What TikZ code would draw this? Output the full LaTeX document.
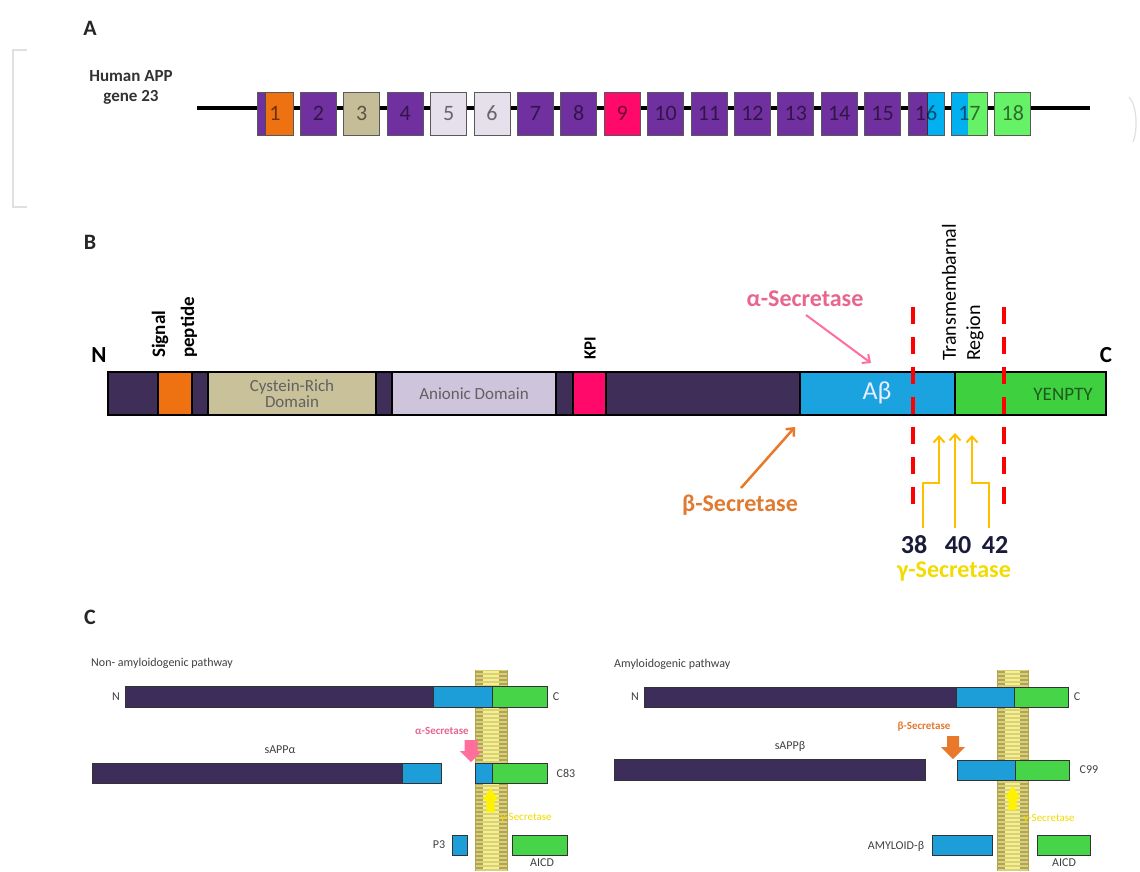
\documentclass[tikz,border=0pt]{standalone}
\usepackage{fontspec}
\setmainfont{Carlito}
\usetikzlibrary{arrows.meta}
\definecolor{exPurple}{HTML}{7030A0}
\definecolor{exOrange}{HTML}{EE7211}
\definecolor{exTan}{HTML}{C4BD97}
\definecolor{exLav}{HTML}{E6E0EC}
\definecolor{exPink}{HTML}{FF0A6A}
\definecolor{exBlue}{HTML}{00B0F0}
\definecolor{exGreen}{HTML}{66F266}
\definecolor{darkPur}{HTML}{3F2F58}
\definecolor{tanB}{HTML}{C9C19A}
\definecolor{lavB}{HTML}{CEC4DC}
\definecolor{blueB}{HTML}{1BA3E0}
\definecolor{greenB}{HTML}{3FD03F}
\definecolor{pinkAr}{HTML}{FF6F9C}
\definecolor{pinkTx}{HTML}{E8668E}
\definecolor{orangeAr}{HTML}{E8782A}
\definecolor{orangeTx}{HTML}{E07A30}
\definecolor{goldAr}{HTML}{FFC000}
\definecolor{yellowTx}{HTML}{F2DC00}
\definecolor{navy}{HTML}{1A1A3A}
\definecolor{purC}{HTML}{3D2D5A}
\definecolor{blueC}{HTML}{1E9ED8}
\definecolor{greenC}{HTML}{48D448}
\definecolor{memBg}{HTML}{D8CF86}
\definecolor{memOut}{HTML}{B3A54C}
\definecolor{memIn}{HTML}{F7F082}
\definecolor{yArrow}{HTML}{FFF200}
\definecolor{abTx}{HTML}{E8EEFF}
\definecolor{yenTx}{HTML}{1E5A1E}
\newcommand\fsz[1]{\fontsize{#1}{#1}\selectfont}
\newcommand\mkseg[8]{\node[#8, fill=#6, minimum width={(#3-#2)*1pt}, minimum height={(#5-#4)*1pt}, anchor=north west] (#1) at (#2,#4) {#7};}
\newcommand\membrane[2]{%
  \fill[memBg] (#1,670) rectangle ({#1+#2},871);
  \foreach \yy in {672,676,...,868}{%
    \draw[memOut, line width=1.3pt] (#1,\yy) -- ({#1+#2},\yy);
    \draw[memIn, line width=1.5pt] ({#1+8},\yy) -- ({#1+#2-8},\yy);}
  \draw[memOut, line width=0.8pt] (#1,670) -- (#1,871) ({#1+#2},670) -- ({#1+#2},871);
}
\begin{document}
\begin{tikzpicture}[x=1pt,y=-1pt,
  exon/.style={draw={black!65}, line width=0.8pt, minimum width=36pt, minimum height=43pt,
    inner sep=0pt, font=\fsz{22}, text=black, text opacity=0.55},
  segbox/.style={draw=black, line width=1.5pt, inner sep=0pt, outer sep=0pt, align=center},
  segc/.style={draw={black!80}, line width=0.8pt, inner sep=0pt, outer sep=0pt},
  panel/.style={font=\fsz{22}\bfseries, text={black!85}},
  rot/.style={rotate=90, anchor=west, inner sep=0pt},
  small/.style={font=\fsz{12}, text={black!75}, inner sep=0pt},
  barb/.style={-{Straight Barb[length=6pt,width=11pt]}}]
\path[use as bounding box, fill=white] (0,0) rectangle (1140,871);

% ---------------- Panel A ----------------
\node[panel] (labA) at (90,28) {A};
\draw[black!12, line width=1.5pt] (27,50) -- (13,50) -- (13,207) -- (27,207);
\draw[black!12, line width=1.2pt] (1129,97) .. controls (1137,105) and (1138,130) .. (1133,142);
\node[font=\fsz{17}\bfseries, text={black!80}, align=center, inner sep=0pt] (hum) at (131,87)
  {Human APP\\[3pt]gene 23};
\coordinate (gL) at (197,108);
\coordinate (gR) at (1090,108);
\draw[line width=3.5pt] (gL) -- (gR);
\node[exon, fill=exOrange, path picture={\fill[exPurple] (path picture bounding box.north west) rectangle ([xshift=8pt]path picture bounding box.south west);
   \draw[black!70, line width=0.8pt] ([xshift=8pt]path picture bounding box.north west) -- ([xshift=8pt]path picture bounding box.south west);}]
  (ex1) at (275,113.5) {1};
\foreach \i/\c in {2/exPurple,3/exTan,4/exPurple,5/exLav,6/exLav,7/exPurple,8/exPurple,9/exPink,10/exPurple,11/exPurple,12/exPurple,13/exPurple,14/exPurple,15/exPurple,18/exGreen}{
  \node[exon, fill=\c] (ex\i) at ({275+(\i-1)*43.4},113.5) {\i};
}
\node[exon, fill=exPurple, path picture={\fill[exBlue] ([xshift=19pt]path picture bounding box.north west) rectangle (path picture bounding box.south east);
   \draw[black!80, line width=0.8pt] ([xshift=19pt]path picture bounding box.north west) -- ([xshift=19pt]path picture bounding box.south west);}]
  (ex16) at ({275+15*43.4},113.5) {16};
\node[exon, fill=exBlue, path picture={\fill[exGreen] ([xshift=17pt]path picture bounding box.north west) rectangle (path picture bounding box.south east);}]
  (ex17) at ({275+16*43.4},113.5) {17};

% ---------------- Panel B ----------------
\node[panel] (labB) at (90,242) {B};
\node[font=\fsz{23}\bfseries, inner sep=0pt] (bN) at (99,355) {N};
\node[font=\fsz{23}\bfseries, inner sep=0pt] (bC) at (1106,355) {C};
\mkseg{b1}{108}{158}{372}{415}{darkPur}{}{segbox}
\mkseg{bsig}{158}{192}{372}{415}{exOrange}{}{segbox}
\mkseg{b2}{192}{208}{372}{415}{darkPur}{}{segbox}
\mkseg{bcys}{208}{376}{372}{415}{tanB}{\fsz{17}\color{black!62}Cystein-Rich\\[1pt]\fsz{17}\color{black!62}Domain}{segbox}
\mkseg{b3}{376}{392}{372}{415}{darkPur}{}{segbox}
\mkseg{bani}{392}{556}{372}{415}{lavB}{\fsz{17}\color{black!62}Anionic Domain}{segbox}
\mkseg{b4}{556}{573}{372}{415}{darkPur}{}{segbox}
\mkseg{bkpi}{573}{606}{372}{415}{exPink}{}{segbox}
\mkseg{b5}{606}{800}{372}{415}{darkPur}{}{segbox}
\mkseg{bab}{800}{955}{372}{415}{blueB}{}{segbox}
\mkseg{bgr}{955}{1106}{372}{415}{greenB}{}{segbox}
\draw[line width=2.5pt] (b1.north west) rectangle (bgr.south east);
\node[font=\fsz{26}, text=abTx, inner sep=0pt] (tab) at (877,393) {Aβ};
\node[font=\fsz{19}, text=yenTx, inner sep=0pt] (tyen) at (1063,394) {YENPTY};

\node[rot, font=\fsz{19}\bfseries] (sig1) at (160,358) {Signal};
\node[rot, font=\fsz{19}\bfseries] (sig2) at (189,358) {peptide};
\node[rot, font=\fsz{17}\bfseries] (kpi) at (590,360) {KPI};
\node[rot, font=\fsz{20}] (tm1) at (949,361) {Transmembarnal};
\node[rot, font=\fsz{20}] (tm2) at (975,361) {Region};

\coordinate (d1t) at (913,307); \coordinate (d1b) at (913,508);
\coordinate (d2t) at (1004,307); \coordinate (d2b) at (1004,508);
\draw[red, line width=3.5pt, dash pattern=on 17pt off 13pt] (d1t) -- (d1b);
\draw[red, line width=3.5pt, dash pattern=on 17pt off 13pt] (d2t) -- (d2b);

\node[font=\fsz{24}\bfseries, text=pinkTx, inner sep=0pt] (alab) at (805,299) {α-Secretase};
\coordinate (aS) at (806,315); \coordinate (aE) at (871,363);
\draw[barb, pinkAr, line width=2pt] (aS) -- (aE);
\node[font=\fsz{24}\bfseries, text=orangeTx, inner sep=0pt] (blab) at (740,505) {β-Secretase};
\coordinate (bS) at (741,488); \coordinate (bE) at (795,427);
\draw[barb, orangeAr, line width=2.5pt] (bS) -- (bE);

\node[font=\fsz{26}\bfseries, text=navy, inner sep=0pt] (n38) at (914,545) {38};
\node[font=\fsz{26}\bfseries, text=navy, inner sep=0pt] (n40) at (958,545) {40};
\node[font=\fsz{26}\bfseries, text=navy, inner sep=0pt] (n42) at (995,545) {42};
\coordinate (g38) at (923,528); \coordinate (g38e) at (939,435);
\coordinate (g40) at (955,528); \coordinate (g40e) at (955,433);
\coordinate (g42) at (989,528); \coordinate (g42e) at (972,435);
\draw[barb, goldAr, line width=2pt] (g38) -- (923,483) -- (939,483) -- (g38e);
\draw[barb, goldAr, line width=2pt] (g40) -- (g40e);
\draw[barb, goldAr, line width=2pt] (g42) -- (989,483) -- (972,483) -- (g42e);
\node[font=\fsz{24}\bfseries, text=yellowTx, inner sep=0pt] (glab) at (954,571) {γ-Secretase};

% ---------------- Panel C ----------------
\node[panel] (labC) at (90,617) {C};
\membrane{475}{32}
\membrane{997}{31}

% left pathway
\node[small, anchor=west] (nonam) at (91,663) {Non- amyloidogenic pathway};
\node[small] (lN) at (116,697) {N};
\mkseg{l1p}{125}{433}{686}{707}{purC}{}{segc}
\mkseg{l1b}{433}{492}{686}{707}{blueC}{}{segc}
\mkseg{l1g}{492}{547}{686}{707}{greenC}{}{segc}
\node[small] (lC) at (556,697) {C};
\node[small, font=\fsz{11}\bfseries, text=pinkTx] (lalab) at (442,731) {α-Secretase};
\fill[pinkAr] (464.5,740) -- (477.5,740) -- (477.5,751) -- (482,751) -- (471,762) -- (460,751) -- (464.5,751) -- cycle;
\node[small] (lsapp) at (280,750) {sAPPα};
\mkseg{l2p}{92}{402}{763}{783}{purC}{}{segc}
\mkseg{l2b}{402}{441}{763}{783}{blueC}{}{segc}
\mkseg{l3b}{475}{492}{763}{783}{blueC}{}{segc}
\mkseg{l3g}{492}{547}{763}{783}{greenC}{}{segc}
\node[small] (lc83) at (566,773) {C83};
\fill[yArrow] (486.5,812) -- (494.5,812) -- (494.5,800) -- (498,800) -- (490.5,788) -- (483,800) -- (486.5,800) -- cycle;
\node[small, font=\fsz{11}, text=yellowTx] (lglab) at (526,818) {γ-Secretase};
\node[small] (lp3) at (439,845) {P3};
\mkseg{lp3b}{452}{467}{835}{855}{blueC}{}{segc}
\mkseg{laicd}{512}{567}{835}{855}{greenC}{}{segc}
\node[small] (laicdl) at (542,863) {AICD};

% right pathway
\node[small, anchor=west] (amyl) at (614,664) {Amyloidogenic pathway};
\node[small] (rN) at (635,697) {N};
\mkseg{r1p}{644}{956}{687}{707}{purC}{}{segc}
\mkseg{r1b}{956}{1014}{687}{707}{blueC}{}{segc}
\mkseg{r1g}{1014}{1068}{687}{707}{greenC}{}{segc}
\node[small] (rC) at (1077,697) {C};
\node[small, font=\fsz{11}\bfseries, text=orangeTx] (rblab) at (924,727) {β-Secretase};
\fill[orangeAr] (947,736) -- (959,736) -- (959,747) -- (965,747) -- (953,759) -- (941,747) -- (947,747) -- cycle;
\node[small] (rsapp) at (790,746) {sAPPβ};
\mkseg{r2p}{614}{925}{759}{780}{purC}{}{segc}
\mkseg{r3b}{957}{1015}{760}{780}{blueC}{}{segc}
\mkseg{r3g}{1015}{1069}{760}{780}{greenC}{}{segc}
\node[small] (rc99) at (1089,770) {C99};
\fill[yArrow] (1008.5,810) -- (1016.5,810) -- (1016.5,798) -- (1020,798) -- (1012.5,786) -- (1005,798) -- (1008.5,798) -- cycle;
\node[small, font=\fsz{11}, text=yellowTx] (rglab) at (1049,819) {γ-Secretase};
\node[small] (ramy) at (896,846) {AMYLOID-β};
\mkseg{ramyb}{932}{992}{835}{855}{blueC}{}{segc}
\mkseg{raicd}{1037}{1090}{835}{855}{greenC}{}{segc}
\node[small] (raicdl) at (1064,863) {AICD};
\end{tikzpicture}
\end{document}
